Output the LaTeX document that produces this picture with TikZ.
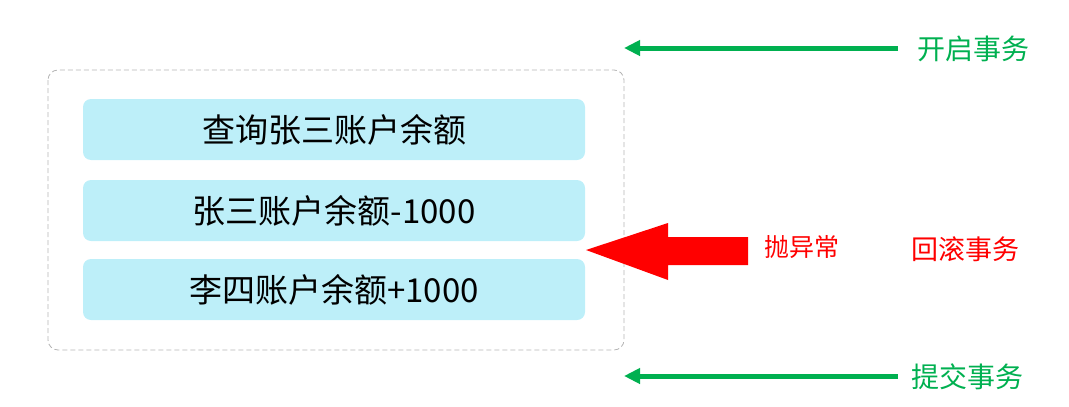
\documentclass[tikz,border=0pt]{standalone}
\usepackage{fontspec}
\setmainfont{Noto Sans CJK SC}
\usetikzlibrary{arrows.meta}
\definecolor{boxfill}{HTML}{BDEFF9}
\definecolor{tgreen}{HTML}{00B050}
\definecolor{tred}{HTML}{FF0000}
\definecolor{dashgray}{HTML}{B4B4B4}
\tikzset{
  opbox/.style={fill=boxfill, draw=none, rounded corners=8pt, minimum width=502pt, minimum height=61pt, inner sep=0pt, font=\fontsize{33}{36}\selectfont},
  frame/.style={draw=dashgray, dashed, dash pattern=on 5pt off 3pt, rounded corners=10pt, line width=0.8pt},
  garrow/.style={draw=tgreen, line width=5pt, -{Triangle[length=16pt,width=15pt]}},
  glabel/.style={text=tgreen, font=\fontsize{28}{32}\selectfont, anchor=west, inner sep=0pt},
  rlabel/.style={text=tred, anchor=west, inner sep=0pt},
}
\begin{document}
\begin{tikzpicture}[x=1pt,y=-1pt]
\useasboundingbox (0,0) rectangle (1069,407);
\draw[frame] (48,70) rectangle (624,350);
\node[opbox] (b1) at (334,129.5) {查询张三账户余额};
\node[opbox] (b2) at (334,210.5) {张三账户余额-1000};
\node[opbox] (b3) at (334,289.5) {李四账户余额+1000};
% green arrows
\coordinate (s1) at (898,48);
\coordinate (e1) at (624,48);
\coordinate (s2) at (898,376);
\coordinate (e2) at (624,376);
\node[glabel] (l1) at (917,49) {开启事务};
\node[glabel] (l2) at (911,377) {提交事务};
\draw[garrow] (s1) -- (e1);
\draw[garrow] (s2) -- (e2);
% red block arrow
\fill[tred] (748,237) -- (668,237) -- (668,223) -- (586,250) -- (668,280) -- (668,265) -- (748,265) -- cycle;
\node[rlabel, font=\fontsize{25}{28}\selectfont] (ex) at (764,247) {抛异常};
\node[rlabel, font=\fontsize{27}{30}\selectfont] (rb) at (911,249) {回滚事务};
\end{tikzpicture}
\end{document}
